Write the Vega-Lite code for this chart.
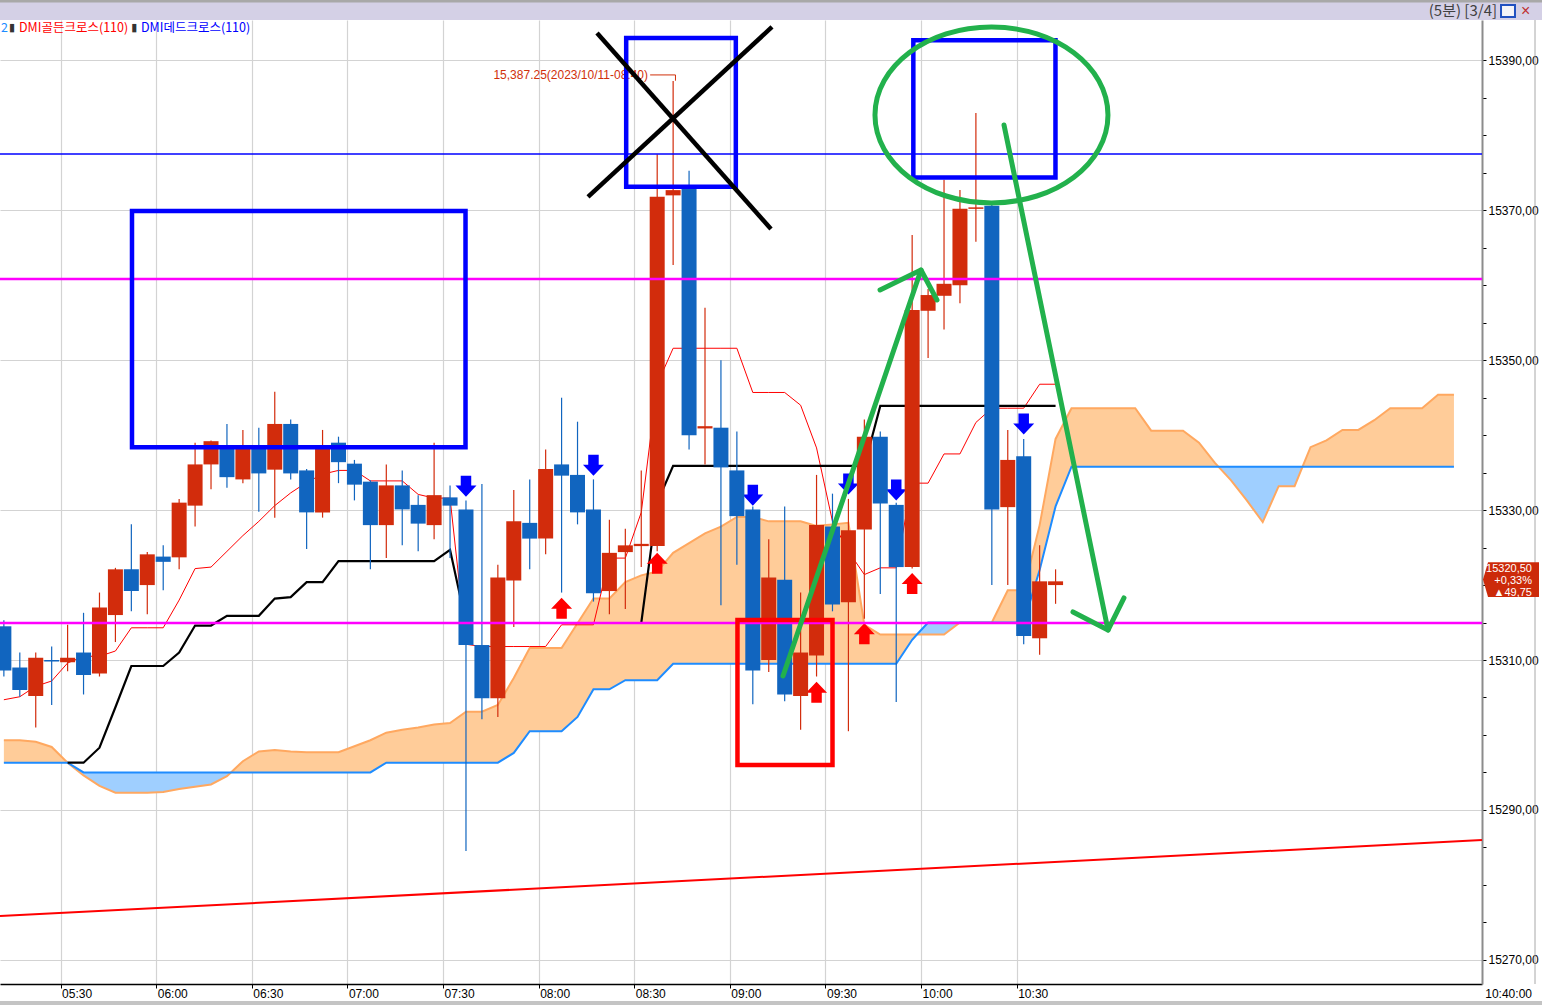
{
"$schema":"https://vega.github.io/schema/vega-lite/v6.json",
"width":1482,"height":964,
"autosize":{"type":"none"},
"padding":{"left":0,"top":20,"right":60,"bottom":21},
"background":"#FFFFFF",
"config":{"view":{"stroke":null},"axis":{"labelFont":"Liberation Sans Narrow, Liberation Sans, sans-serif","labelFontSize":12,"labelColor":"#000000"}},
"datasets":{
"candles":[
{"time":"2023-10-11T05:10","open":15314.5,"high":15315.3,"low":15307.8,"close":15308.6,"tenkan":15304.7,"kijun":null},
{"time":"2023-10-11T05:15","open":15309.0,"high":15311.0,"low":15305.1,"close":15306.0,"tenkan":15305.1,"kijun":null},
{"time":"2023-10-11T05:20","open":15305.2,"high":15311.0,"low":15301.0,"close":15310.3,"tenkan":15306.5,"kijun":null},
{"time":"2023-10-11T05:25","open":15310.0,"high":15311.8,"low":15304.0,"close":15309.8,"tenkan":15307.2,"kijun":null},
{"time":"2023-10-11T05:30","open":15309.7,"high":15314.7,"low":15308.5,"close":15310.3,"tenkan":15309.6,"kijun":15296.3},
{"time":"2023-10-11T05:35","open":15311.0,"high":15316.3,"low":15305.4,"close":15308.0,"tenkan":15310.5,"kijun":15296.3},
{"time":"2023-10-11T05:40","open":15308.2,"high":15319.0,"low":15307.8,"close":15317.0,"tenkan":15310.5,"kijun":15298.3},
{"time":"2023-10-11T05:45","open":15316.0,"high":15322.3,"low":15312.4,"close":15322.1,"tenkan":15311.2,"kijun":15303.7},
{"time":"2023-10-11T05:50","open":15322.1,"high":15328.1,"low":15316.5,"close":15319.2,"tenkan":15314.3,"kijun":15309.2},
{"time":"2023-10-11T05:55","open":15320.0,"high":15324.4,"low":15316.1,"close":15324.1,"tenkan":15314.3,"kijun":15309.2},
{"time":"2023-10-11T06:00","open":15323.8,"high":15325.3,"low":15319.3,"close":15323.1,"tenkan":15314.3,"kijun":15309.2},
{"time":"2023-10-11T06:05","open":15323.7,"high":15331.5,"low":15322.1,"close":15331.0,"tenkan":15318.0,"kijun":15311.0},
{"time":"2023-10-11T06:10","open":15330.6,"high":15339.0,"low":15327.8,"close":15336.1,"tenkan":15322.2,"kijun":15314.6},
{"time":"2023-10-11T06:15","open":15336.1,"high":15339.3,"low":15332.8,"close":15339.2,"tenkan":15322.4,"kijun":15314.6},
{"time":"2023-10-11T06:20","open":15338.4,"high":15341.5,"low":15333.0,"close":15334.4,"tenkan":15324.5,"kijun":15315.9},
{"time":"2023-10-11T06:25","open":15334.1,"high":15340.7,"low":15333.6,"close":15338.3,"tenkan":15326.6,"kijun":15315.9},
{"time":"2023-10-11T06:30","open":15338.3,"high":15341.0,"low":15329.8,"close":15334.9,"tenkan":15328.5,"kijun":15315.9},
{"time":"2023-10-11T06:35","open":15335.4,"high":15345.8,"low":15329.0,"close":15341.5,"tenkan":15330.6,"kijun":15318.2},
{"time":"2023-10-11T06:40","open":15341.5,"high":15342.1,"low":15334.1,"close":15334.9,"tenkan":15332.3,"kijun":15318.4},
{"time":"2023-10-11T06:45","open":15335.3,"high":15335.5,"low":15324.8,"close":15329.7,"tenkan":15333.7,"kijun":15320.4},
{"time":"2023-10-11T06:50","open":15329.7,"high":15340.7,"low":15329.0,"close":15338.3,"tenkan":15334.8,"kijun":15320.4},
{"time":"2023-10-11T06:55","open":15339.0,"high":15339.8,"low":15333.6,"close":15336.4,"tenkan":15335.3,"kijun":15323.2},
{"time":"2023-10-11T07:00","open":15336.2,"high":15336.7,"low":15331.3,"close":15333.4,"tenkan":15335.3,"kijun":15323.2},
{"time":"2023-10-11T07:05","open":15333.8,"high":15334.0,"low":15322.1,"close":15328.0,"tenkan":15333.9,"kijun":15323.2},
{"time":"2023-10-11T07:10","open":15328.0,"high":15336.1,"low":15323.6,"close":15333.3,"tenkan":15333.9,"kijun":15323.2},
{"time":"2023-10-11T07:15","open":15333.3,"high":15335.3,"low":15325.3,"close":15330.1,"tenkan":15333.9,"kijun":15323.2},
{"time":"2023-10-11T07:20","open":15330.7,"high":15332.0,"low":15324.5,"close":15328.2,"tenkan":15332.1,"kijun":15323.2},
{"time":"2023-10-11T07:25","open":15328.0,"high":15339.0,"low":15326.1,"close":15332.0,"tenkan":15331.6,"kijun":15323.2},
{"time":"2023-10-11T07:30","open":15331.7,"high":15333.3,"low":15323.6,"close":15330.6,"tenkan":15331.6,"kijun":15324.7},
{"time":"2023-10-11T07:35","open":15330.1,"high":15331.3,"low":15284.5,"close":15312.0,"tenkan":15312.1,"kijun":15314.94},
{"time":"2023-10-11T07:40","open":15312.0,"high":15333.5,"low":15302.1,"close":15304.9,"tenkan":15311.8,"kijun":15314.94},
{"time":"2023-10-11T07:45","open":15304.9,"high":15322.7,"low":15302.4,"close":15321.0,"tenkan":15311.8,"kijun":15314.94},
{"time":"2023-10-11T07:50","open":15320.6,"high":15332.7,"low":15314.4,"close":15328.5,"tenkan":15311.8,"kijun":15314.94},
{"time":"2023-10-11T07:55","open":15328.3,"high":15334.1,"low":15322.1,"close":15326.2,"tenkan":15311.8,"kijun":15314.94},
{"time":"2023-10-11T08:00","open":15326.2,"high":15338.1,"low":15324.1,"close":15335.5,"tenkan":15311.8,"kijun":15314.94},
{"time":"2023-10-11T08:05","open":15336.1,"high":15345.0,"low":15319.0,"close":15334.6,"tenkan":15314.7,"kijun":15314.94},
{"time":"2023-10-11T08:10","open":15334.7,"high":15341.8,"low":15328.1,"close":15329.7,"tenkan":15314.7,"kijun":15314.94},
{"time":"2023-10-11T08:15","open":15330.1,"high":15334.1,"low":15317.8,"close":15318.9,"tenkan":15314.7,"kijun":15314.94},
{"time":"2023-10-11T08:20","open":15319.2,"high":15328.7,"low":15316.1,"close":15324.3,"tenkan":15323.6,"kijun":15314.94},
{"time":"2023-10-11T08:25","open":15324.4,"high":15327.5,"low":15316.8,"close":15325.3,"tenkan":15323.6,"kijun":15314.94},
{"time":"2023-10-11T08:30","open":15325.2,"high":15335.3,"low":15322.4,"close":15325.5,"tenkan":15329.7,"kijun":15314.94},
{"time":"2023-10-11T08:35","open":15325.2,"high":15377.5,"low":15324.5,"close":15371.8,"tenkan":15346.8,"kijun":15331.0},
{"time":"2023-10-11T08:40","open":15372.0,"high":15387.25,"low":15362.7,"close":15372.7,"tenkan":15351.6,"kijun":15335.9},
{"time":"2023-10-11T08:45","open":15372.9,"high":15375.3,"low":15338.1,"close":15340.0,"tenkan":15351.6,"kijun":15335.9},
{"time":"2023-10-11T08:50","open":15340.9,"high":15357.0,"low":15336.1,"close":15341.2,"tenkan":15351.6,"kijun":15335.9},
{"time":"2023-10-11T08:55","open":15341.0,"high":15350.0,"low":15317.3,"close":15335.7,"tenkan":15351.6,"kijun":15335.9},
{"time":"2023-10-11T09:00","open":15335.3,"high":15340.5,"low":15322.7,"close":15329.2,"tenkan":15351.6,"kijun":15335.9},
{"time":"2023-10-11T09:05","open":15330.1,"high":15330.5,"low":15304.1,"close":15308.6,"tenkan":15345.7,"kijun":15335.9},
{"time":"2023-10-11T09:10","open":15310.0,"high":15326.1,"low":15308.4,"close":15321.0,"tenkan":15345.7,"kijun":15335.9},
{"time":"2023-10-11T09:15","open":15320.7,"high":15330.5,"low":15304.5,"close":15305.4,"tenkan":15345.7,"kijun":15335.9},
{"time":"2023-10-11T09:20","open":15305.2,"high":15319.0,"low":15300.7,"close":15311.0,"tenkan":15344.0,"kijun":15335.9},
{"time":"2023-10-11T09:25","open":15310.6,"high":15334.7,"low":15307.8,"close":15328.0,"tenkan":15338.3,"kijun":15335.9},
{"time":"2023-10-11T09:30","open":15327.8,"high":15332.2,"low":15316.5,"close":15317.4,"tenkan":15328.5,"kijun":15335.9},
{"time":"2023-10-11T09:35","open":15317.7,"high":15331.5,"low":15300.5,"close":15327.3,"tenkan":15324.5,"kijun":15335.9},
{"time":"2023-10-11T09:40","open":15327.4,"high":15342.1,"low":15315.5,"close":15339.8,"tenkan":15321.4,"kijun":15335.9},
{"time":"2023-10-11T09:45","open":15339.8,"high":15340.5,"low":15318.8,"close":15330.9,"tenkan":15322.3,"kijun":15343.9},
{"time":"2023-10-11T09:50","open":15330.7,"high":15331.0,"low":15304.4,"close":15322.4,"tenkan":15322.3,"kijun":15343.9},
{"time":"2023-10-11T09:55","open":15322.4,"high":15366.7,"low":15322.2,"close":15356.7,"tenkan":15333.6,"kijun":15343.9},
{"time":"2023-10-11T10:00","open":15356.6,"high":15359.5,"low":15350.3,"close":15358.7,"tenkan":15333.6,"kijun":15343.9},
{"time":"2023-10-11T10:05","open":15358.6,"high":15374.1,"low":15354.1,"close":15360.2,"tenkan":15337.5,"kijun":15343.9},
{"time":"2023-10-11T10:10","open":15360.0,"high":15372.7,"low":15357.6,"close":15370.2,"tenkan":15337.5,"kijun":15343.9},
{"time":"2023-10-11T10:15","open":15370.2,"high":15383.0,"low":15365.8,"close":15370.4,"tenkan":15341.7,"kijun":15343.9},
{"time":"2023-10-11T10:20","open":15370.6,"high":15371.0,"low":15320.0,"close":15330.1,"tenkan":15343.6,"kijun":15343.9},
{"time":"2023-10-11T10:25","open":15330.4,"high":15340.7,"low":15320.0,"close":15336.7,"tenkan":15343.6,"kijun":15343.9},
{"time":"2023-10-11T10:30","open":15337.2,"high":15339.5,"low":15312.1,"close":15313.2,"tenkan":15343.6,"kijun":15343.9},
{"time":"2023-10-11T10:35","open":15312.9,"high":15325.3,"low":15310.7,"close":15320.5,"tenkan":15346.8,"kijun":15343.9},
{"time":"2023-10-11T10:40","open":15320.0,"high":15322.1,"low":15317.5,"close":15320.5,"tenkan":15346.8,"kijun":15343.9}
],
"cloud":[
{"time":"2023-10-11T05:10","spanA":15299.3,"spanB":15296.3,"seg":1,"kumo":"up"},
{"time":"2023-10-11T05:15","spanA":15299.3,"spanB":15296.3,"seg":1,"kumo":"up"},
{"time":"2023-10-11T05:20","spanA":15299.1,"spanB":15296.3,"seg":1,"kumo":"up"},
{"time":"2023-10-11T05:25","spanA":15298.4,"spanB":15296.3,"seg":1,"kumo":"up"},
{"time":"2023-10-11T05:30","spanA":15296.3,"spanB":15296.3,"seg":1,"kumo":"up"},
{"time":"2023-10-11T05:30","spanA":15296.3,"spanB":15296.3,"seg":2,"kumo":"down"},
{"time":"2023-10-11T05:35","spanA":15294.6,"spanB":15295.0,"seg":2,"kumo":"down"},
{"time":"2023-10-11T05:40","spanA":15293.2,"spanB":15295.0,"seg":2,"kumo":"down"},
{"time":"2023-10-11T05:45","spanA":15292.3,"spanB":15295.0,"seg":2,"kumo":"down"},
{"time":"2023-10-11T05:50","spanA":15292.3,"spanB":15295.0,"seg":2,"kumo":"down"},
{"time":"2023-10-11T05:55","spanA":15292.3,"spanB":15295.0,"seg":2,"kumo":"down"},
{"time":"2023-10-11T06:00","spanA":15292.4,"spanB":15295.0,"seg":2,"kumo":"down"},
{"time":"2023-10-11T06:05","spanA":15292.8,"spanB":15295.0,"seg":2,"kumo":"down"},
{"time":"2023-10-11T06:10","spanA":15293.1,"spanB":15295.0,"seg":2,"kumo":"down"},
{"time":"2023-10-11T06:15","spanA":15293.4,"spanB":15295.0,"seg":2,"kumo":"down"},
{"time":"2023-10-11T06:20","spanA":15294.5,"spanB":15295.0,"seg":2,"kumo":"down"},
{"time":"2023-10-11T06:21:15","spanA":15295.0,"spanB":15295.0,"seg":2,"kumo":"down"},
{"time":"2023-10-11T06:21:15","spanA":15295.0,"spanB":15295.0,"seg":3,"kumo":"up"},
{"time":"2023-10-11T06:25","spanA":15296.5,"spanB":15295.0,"seg":3,"kumo":"up"},
{"time":"2023-10-11T06:30","spanA":15297.8,"spanB":15295.0,"seg":3,"kumo":"up"},
{"time":"2023-10-11T06:35","spanA":15298.0,"spanB":15295.0,"seg":3,"kumo":"up"},
{"time":"2023-10-11T06:40","spanA":15297.8,"spanB":15295.0,"seg":3,"kumo":"up"},
{"time":"2023-10-11T06:45","spanA":15297.7,"spanB":15295.0,"seg":3,"kumo":"up"},
{"time":"2023-10-11T06:50","spanA":15297.7,"spanB":15295.0,"seg":3,"kumo":"up"},
{"time":"2023-10-11T06:55","spanA":15297.7,"spanB":15295.0,"seg":3,"kumo":"up"},
{"time":"2023-10-11T07:00","spanA":15298.5,"spanB":15295.0,"seg":3,"kumo":"up"},
{"time":"2023-10-11T07:05","spanA":15299.3,"spanB":15295.0,"seg":3,"kumo":"up"},
{"time":"2023-10-11T07:10","spanA":15300.3,"spanB":15296.3,"seg":3,"kumo":"up"},
{"time":"2023-10-11T07:15","spanA":15300.7,"spanB":15296.3,"seg":3,"kumo":"up"},
{"time":"2023-10-11T07:20","spanA":15301.0,"spanB":15296.3,"seg":3,"kumo":"up"},
{"time":"2023-10-11T07:25","spanA":15301.4,"spanB":15296.3,"seg":3,"kumo":"up"},
{"time":"2023-10-11T07:30","spanA":15301.6,"spanB":15296.3,"seg":3,"kumo":"up"},
{"time":"2023-10-11T07:35","spanA":15303.1,"spanB":15296.3,"seg":3,"kumo":"up"},
{"time":"2023-10-11T07:40","spanA":15303.1,"spanB":15296.3,"seg":3,"kumo":"up"},
{"time":"2023-10-11T07:45","spanA":15304.0,"spanB":15296.3,"seg":3,"kumo":"up"},
{"time":"2023-10-11T07:50","spanA":15307.6,"spanB":15297.6,"seg":3,"kumo":"up"},
{"time":"2023-10-11T07:55","spanA":15311.6,"spanB":15300.5,"seg":3,"kumo":"up"},
{"time":"2023-10-11T08:00","spanA":15311.6,"spanB":15300.5,"seg":3,"kumo":"up"},
{"time":"2023-10-11T08:05","spanA":15311.6,"spanB":15300.5,"seg":3,"kumo":"up"},
{"time":"2023-10-11T08:10","spanA":15314.9,"spanB":15302.4,"seg":3,"kumo":"up"},
{"time":"2023-10-11T08:15","spanA":15318.2,"spanB":15306.1,"seg":3,"kumo":"up"},
{"time":"2023-10-11T08:20","spanA":15318.2,"spanB":15306.1,"seg":3,"kumo":"up"},
{"time":"2023-10-11T08:25","spanA":15320.4,"spanB":15307.3,"seg":3,"kumo":"up"},
{"time":"2023-10-11T08:30","spanA":15321.3,"spanB":15307.3,"seg":3,"kumo":"up"},
{"time":"2023-10-11T08:35","spanA":15321.8,"spanB":15307.3,"seg":3,"kumo":"up"},
{"time":"2023-10-11T08:40","spanA":15324.3,"spanB":15309.5,"seg":3,"kumo":"up"},
{"time":"2023-10-11T08:45","spanA":15325.6,"spanB":15309.5,"seg":3,"kumo":"up"},
{"time":"2023-10-11T08:50","spanA":15326.9,"spanB":15309.5,"seg":3,"kumo":"up"},
{"time":"2023-10-11T08:55","spanA":15327.8,"spanB":15309.5,"seg":3,"kumo":"up"},
{"time":"2023-10-11T09:00","spanA":15329.1,"spanB":15309.5,"seg":3,"kumo":"up"},
{"time":"2023-10-11T09:05","spanA":15329.1,"spanB":15309.5,"seg":3,"kumo":"up"},
{"time":"2023-10-11T09:10","spanA":15328.5,"spanB":15309.5,"seg":3,"kumo":"up"},
{"time":"2023-10-11T09:15","spanA":15328.5,"spanB":15309.5,"seg":3,"kumo":"up"},
{"time":"2023-10-11T09:20","spanA":15328.5,"spanB":15309.5,"seg":3,"kumo":"up"},
{"time":"2023-10-11T09:25","spanA":15327.9,"spanB":15309.5,"seg":3,"kumo":"up"},
{"time":"2023-10-11T09:30","spanA":15328.1,"spanB":15309.5,"seg":3,"kumo":"up"},
{"time":"2023-10-11T09:35","spanA":15328.3,"spanB":15309.5,"seg":3,"kumo":"up"},
{"time":"2023-10-11T09:40","spanA":15314.7,"spanB":15309.5,"seg":3,"kumo":"up"},
{"time":"2023-10-11T09:45","spanA":15313.4,"spanB":15309.5,"seg":3,"kumo":"up"},
{"time":"2023-10-11T09:50","spanA":15313.4,"spanB":15309.5,"seg":3,"kumo":"up"},
{"time":"2023-10-11T09:55","spanA":15313.4,"spanB":15312.7,"seg":3,"kumo":"up"},
{"time":"2023-10-11T09:56:30","spanA":15313.4,"spanB":15313.4,"seg":3,"kumo":"up"},
{"time":"2023-10-11T09:56:30","spanA":15313.4,"spanB":15313.4,"seg":4,"kumo":"down"},
{"time":"2023-10-11T10:00","spanA":15313.4,"spanB":15315.0,"seg":4,"kumo":"down"},
{"time":"2023-10-11T10:05","spanA":15313.4,"spanB":15315.0,"seg":4,"kumo":"down"},
{"time":"2023-10-11T10:10","spanA":15315.0,"spanB":15315.0,"seg":4,"kumo":"down"},
{"time":"2023-10-11T10:10","spanA":15315.0,"spanB":15315.0,"seg":5,"kumo":"up"},
{"time":"2023-10-11T10:15","spanA":15315.0,"spanB":15315.0,"seg":5,"kumo":"up"},
{"time":"2023-10-11T10:20","spanA":15315.0,"spanB":15315.0,"seg":5,"kumo":"up"},
{"time":"2023-10-11T10:25","spanA":15319.3,"spanB":15315.0,"seg":5,"kumo":"up"},
{"time":"2023-10-11T10:30","spanA":15319.3,"spanB":15315.0,"seg":5,"kumo":"up"},
{"time":"2023-10-11T10:35","spanA":15328.0,"spanB":15322.0,"seg":5,"kumo":"up"},
{"time":"2023-10-11T10:40","spanA":15339.5,"spanB":15330.5,"seg":5,"kumo":"up"},
{"time":"2023-10-11T10:45","spanA":15343.6,"spanB":15335.8,"seg":5,"kumo":"up"},
{"time":"2023-10-11T10:50","spanA":15343.6,"spanB":15335.8,"seg":5,"kumo":"up"},
{"time":"2023-10-11T10:55","spanA":15343.6,"spanB":15335.8,"seg":5,"kumo":"up"},
{"time":"2023-10-11T11:00","spanA":15343.6,"spanB":15335.8,"seg":5,"kumo":"up"},
{"time":"2023-10-11T11:05","spanA":15343.6,"spanB":15335.8,"seg":5,"kumo":"up"},
{"time":"2023-10-11T11:10","spanA":15340.6,"spanB":15335.8,"seg":5,"kumo":"up"},
{"time":"2023-10-11T11:15","spanA":15340.6,"spanB":15335.8,"seg":5,"kumo":"up"},
{"time":"2023-10-11T11:20","spanA":15340.6,"spanB":15335.8,"seg":5,"kumo":"up"},
{"time":"2023-10-11T11:25","spanA":15339.0,"spanB":15335.8,"seg":5,"kumo":"up"},
{"time":"2023-10-11T11:30","spanA":15336.3,"spanB":15335.8,"seg":5,"kumo":"up"},
{"time":"2023-10-11T11:31:05","spanA":15335.8,"spanB":15335.8,"seg":5,"kumo":"up"},
{"time":"2023-10-11T11:31:05","spanA":15335.8,"spanB":15335.8,"seg":6,"kumo":"down"},
{"time":"2023-10-11T11:35","spanA":15334.0,"spanB":15335.8,"seg":6,"kumo":"down"},
{"time":"2023-10-11T11:40","spanA":15331.3,"spanB":15335.8,"seg":6,"kumo":"down"},
{"time":"2023-10-11T11:45","spanA":15328.4,"spanB":15335.8,"seg":6,"kumo":"down"},
{"time":"2023-10-11T11:50","spanA":15333.2,"spanB":15335.8,"seg":6,"kumo":"down"},
{"time":"2023-10-11T11:55","spanA":15333.2,"spanB":15335.8,"seg":6,"kumo":"down"},
{"time":"2023-10-11T11:57:30","spanA":15335.8,"spanB":15335.8,"seg":6,"kumo":"down"},
{"time":"2023-10-11T11:57:30","spanA":15335.8,"spanB":15335.8,"seg":7,"kumo":"up"},
{"time":"2023-10-11T12:00","spanA":15338.4,"spanB":15335.8,"seg":7,"kumo":"up"},
{"time":"2023-10-11T12:05","spanA":15339.3,"spanB":15335.8,"seg":7,"kumo":"up"},
{"time":"2023-10-11T12:10","spanA":15340.7,"spanB":15335.8,"seg":7,"kumo":"up"},
{"time":"2023-10-11T12:15","spanA":15340.7,"spanB":15335.8,"seg":7,"kumo":"up"},
{"time":"2023-10-11T12:20","spanA":15342.0,"spanB":15335.8,"seg":7,"kumo":"up"},
{"time":"2023-10-11T12:25","spanA":15343.6,"spanB":15335.8,"seg":7,"kumo":"up"},
{"time":"2023-10-11T12:30","spanA":15343.6,"spanB":15335.8,"seg":7,"kumo":"up"},
{"time":"2023-10-11T12:35","spanA":15343.6,"spanB":15335.8,"seg":7,"kumo":"up"},
{"time":"2023-10-11T12:40","spanA":15345.4,"spanB":15335.8,"seg":7,"kumo":"up"},
{"time":"2023-10-11T12:45","spanA":15345.4,"spanB":15335.8,"seg":7,"kumo":"up"}
],
"sell":[
{"time":"2023-10-11T07:35","price":15333.2},
{"time":"2023-10-11T08:15","price":15336.0},
{"time":"2023-10-11T09:05","price":15332.0},
{"time":"2023-10-11T09:35","price":15333.5},
{"time":"2023-10-11T09:50","price":15332.7},
{"time":"2023-10-11T10:30","price":15341.5}
],
"buy":[
{"time":"2023-10-11T08:05","price":15316.9},
{"time":"2023-10-11T08:35","price":15322.9},
{"time":"2023-10-11T09:25","price":15305.7},
{"time":"2023-10-11T09:40","price":15313.5},
{"time":"2023-10-11T09:55","price":15320.2}
],
"blueBoxes":[
{"from":"2023-10-11T05:52:24","to":"2023-10-11T07:37:03","top":15369.9,"bottom":15338.4},
{"from":"2023-10-11T08:27:28","to":"2023-10-11T09:01:52","top":15393.0,"bottom":15373.15},
{"from":"2023-10-11T09:57:34","to":"2023-10-11T10:42:10","top":15392.7,"bottom":15374.4}
],
"redBoxes":[
{"from":"2023-10-11T09:02:23","to":"2023-10-11T09:32:12","top":15315.34,"bottom":15295.99}
],
"cross":[
{"stroke":"a","i":1,"time":"2023-10-11T08:18:19","price":15393.67},
{"stroke":"a","i":2,"time":"2023-10-11T09:12:54","price":15367.52},
{"stroke":"b","i":1,"time":"2023-10-11T08:15:29","price":15371.79},
{"stroke":"b","i":2,"time":"2023-10-11T09:13:13","price":15394.47}
],
"green":[
{"stroke":"up shaft","i":1,"time":"2023-10-11T09:16:40","price":15307.87},
{"stroke":"up shaft","i":2,"time":"2023-10-11T09:59:58","price":15362.04},
{"stroke":"up head","i":1,"time":"2023-10-11T09:47:07","price":15359.38},
{"stroke":"up head","i":2,"time":"2023-10-11T09:59:58","price":15362.04},
{"stroke":"up head","i":3,"time":"2023-10-11T10:04:59","price":15358.04},
{"stroke":"down shaft","i":1,"time":"2023-10-11T10:26:01","price":15381.39},
{"stroke":"down shaft","i":2,"time":"2023-10-11T10:58:39","price":15314.0},
{"stroke":"down head","i":1,"time":"2023-10-11T10:47:40","price":15316.41},
{"stroke":"down head","i":2,"time":"2023-10-11T10:58:39","price":15314.0},
{"stroke":"down head","i":3,"time":"2023-10-11T11:03:40","price":15318.28}
]
},
"layer":[
{"data":{"name":"cloud"},"transform":[{"filter":"datum.kumo == 'up'"}],
 "mark":{"type":"area","color":"#FFCC99","opacity":1,"xOffset":7},
 "encoding":{
  "x":{"field":"time","type":"temporal","title":null,
   "scale":{"domain":[{"year":2023,"month":10,"date":11,"hours":5,"minutes":10,"seconds":59},{"year":2023,"month":10,"date":11,"hours":12,"minutes":56,"seconds":0}],"nice":false,"padding":0},
   "axis":{"values":[{"year":2023,"month":10,"date":11,"hours":5,"minutes":30},{"year":2023,"month":10,"date":11,"hours":6,"minutes":0},{"year":2023,"month":10,"date":11,"hours":6,"minutes":30},{"year":2023,"month":10,"date":11,"hours":7,"minutes":0},{"year":2023,"month":10,"date":11,"hours":7,"minutes":30},{"year":2023,"month":10,"date":11,"hours":8,"minutes":0},{"year":2023,"month":10,"date":11,"hours":8,"minutes":30},{"year":2023,"month":10,"date":11,"hours":9,"minutes":0},{"year":2023,"month":10,"date":11,"hours":9,"minutes":30},{"year":2023,"month":10,"date":11,"hours":10,"minutes":0},{"year":2023,"month":10,"date":11,"hours":10,"minutes":30}],
    "format":"%H:%M","title":null,"labelAlign":"left","labelOffset":1,"labelPadding":0,"labelBaseline":"top","labelFlush":false,"labelOverlap":false,
    "tickSize":4,"tickColor":"#000000","domainColor":"#000000","domainWidth":1.5,"grid":true,"gridColor":"#D3D3D3","gridWidth":1.2}},
  "y":{"field":"spanA","type":"quantitative","title":null,
   "scale":{"domain":[15266.77,15395.4],"nice":false,"zero":false,"padding":0},
   "axis":{"orient":"right","title":null,"values":[15270,15275,15280,15285,15290,15295,15300,15305,15310,15315,15320,15325,15330,15335,15340,15345,15350,15355,15360,15365,15370,15375,15380,15385,15390],
    "labelExpr":"datum.value % 20 == 10 ? replace(format(datum.value, '.2f'), '.', ',') : ''",
    "tickSize":4,"tickColor":"#000000","domainColor":"#8C8C8C","domainWidth":2,"labelPadding":2,"labelOverlap":false,"labelFlush":false,
    "grid":true,"gridColor":"#D3D3D3","gridWidth":1.2,"gridOpacity":{"condition":{"test":"datum.value % 20 == 10","value":1},"value":0}}},
  "y2":{"field":"spanB"},
  "detail":{"field":"seg","type":"nominal"}}},
{"data":{"name":"cloud"},"transform":[{"filter":"datum.kumo == 'down'"}],
 "mark":{"type":"area","color":"#9FCFFF","opacity":1,"xOffset":7},
 "encoding":{"x":{"field":"time","type":"temporal","title":null},"y":{"field":"spanA","type":"quantitative","title":null},"y2":{"field":"spanB"},"detail":{"field":"seg","type":"nominal"}}},
{"data":{"name":"cloud"},
 "mark":{"type":"line","color":"#FFA860","strokeWidth":2,"xOffset":7},
 "encoding":{"x":{"field":"time","type":"temporal","title":null},"y":{"field":"spanA","type":"quantitative","title":null}}},
{"data":{"name":"cloud"},
 "mark":{"type":"line","color":"#1E8CFF","strokeWidth":2,"xOffset":7},
 "encoding":{"x":{"field":"time","type":"temporal","title":null},"y":{"field":"spanB","type":"quantitative","title":null}}},
{"data":{"name":"candles"},
 "mark":{"type":"line","color":"#FF0000","strokeWidth":1,"xOffset":7},
 "encoding":{"x":{"field":"time","type":"temporal","title":null},"y":{"field":"tenkan","type":"quantitative","title":null}}},
{"data":{"name":"candles"},
 "mark":{"type":"line","color":"#000000","strokeWidth":2.2,"xOffset":7},
 "encoding":{"x":{"field":"time","type":"temporal","title":null},"y":{"field":"kijun","type":"quantitative","title":null}}},
{"data":{"name":"sell"},
 "mark":{"type":"point","shape":"M-0.5,-1L0.5,-1L0.5,-0.05L1,-0.05L0,1L-1,-0.05L-0.5,-0.05Z","filled":true,"size":441,"color":"#0000FF","opacity":1,"strokeWidth":0,"xOffset":7},
 "encoding":{"x":{"field":"time","type":"temporal","title":null},"y":{"field":"price","type":"quantitative","title":null}}},
{"data":{"name":"buy"},
 "mark":{"type":"point","shape":"M-0.5,1L0.5,1L0.5,0.05L1,0.05L0,-1L-1,0.05L-0.5,0.05Z","filled":true,"size":441,"color":"#FF0000","opacity":1,"strokeWidth":0,"xOffset":7},
 "encoding":{"x":{"field":"time","type":"temporal","title":null},"y":{"field":"price","type":"quantitative","title":null}}},
{"data":{"name":"candles"},
 "mark":{"type":"rule","strokeWidth":1.2,"xOffset":7},
 "encoding":{"x":{"field":"time","type":"temporal","title":null},"y":{"field":"low","type":"quantitative","title":null},"y2":{"field":"high"},
  "color":{"condition":{"test":"datum.close >= datum.open","value":"#D22C0C"},"value":"#1165BF"}}},
{"data":{"name":"candles"},
 "mark":{"type":"bar","width":15,"xOffset":7},
 "encoding":{"x":{"field":"time","type":"temporal","title":null},"y":{"field":"open","type":"quantitative","title":null},"y2":{"field":"close"},
  "color":{"condition":{"test":"datum.close >= datum.open","value":"#D22C0C"},"value":"#1165BF"}}},
{"data":{"values":[{"price":15377.52}]},
 "mark":{"type":"rule","color":"#0000FF","strokeWidth":1.6},
 "encoding":{"y":{"field":"price","type":"quantitative","title":null}}},
{"data":{"values":[{"price":15360.84},{"price":15314.94}]},
 "mark":{"type":"rule","color":"#FF00FF","strokeWidth":2.4},
 "encoding":{"y":{"field":"price","type":"quantitative","title":null}}},
{"data":{"values":[{"time":"2023-10-11T05:10:59","price":15275.84},{"time":"2023-10-11T12:56:00","price":15285.98}]},
 "mark":{"type":"line","color":"#FF0000","strokeWidth":2},
 "encoding":{"x":{"field":"time","type":"temporal","title":null},"y":{"field":"price","type":"quantitative","title":null}}},
{"data":{"values":[{"time":"2023-10-11T08:34:19","price":15388.07,"label":"15,387.25(2023/10/11-08:40)"}]},
 "mark":{"type":"text","align":"right","baseline":"middle","font":"Liberation Sans, sans-serif","fontSize":12,"color":"#D0300A"},
 "encoding":{"x":{"field":"time","type":"temporal","title":null},"y":{"field":"price","type":"quantitative","title":null},"text":{"field":"label"}}},
{"data":{"values":[{"i":1,"time":"2023-10-11T08:34:59","price":15388.07},{"i":2,"time":"2023-10-11T08:42:56","price":15388.07},{"i":3,"time":"2023-10-11T08:42:56","price":15387.3}]},
 "mark":{"type":"line","color":"#D0300A","strokeWidth":1},
 "encoding":{"x":{"field":"time","type":"temporal","title":null},"y":{"field":"price","type":"quantitative","title":null},"order":{"field":"i"}}},
{"data":{"name":"blueBoxes"},
 "mark":{"type":"rect","fill":"transparent","stroke":"#0000FF","strokeWidth":4.5},
 "encoding":{"x":{"field":"from","type":"temporal","title":null},"x2":{"field":"to"},"y":{"field":"top","type":"quantitative","title":null},"y2":{"field":"bottom"}}},
{"data":{"name":"redBoxes"},
 "mark":{"type":"rect","fill":"transparent","stroke":"#FF0000","strokeWidth":4.5},
 "encoding":{"x":{"field":"from","type":"temporal","title":null},"x2":{"field":"to"},"y":{"field":"top","type":"quantitative","title":null},"y2":{"field":"bottom"}}},
{"data":{"name":"cross"},
 "mark":{"type":"line","color":"#000000","strokeWidth":4.5},
 "encoding":{"x":{"field":"time","type":"temporal","title":null},"y":{"field":"price","type":"quantitative","title":null},"detail":{"field":"stroke","type":"nominal"},"order":{"field":"i"}}},
{"data":{"values":[{"time":"2023-10-11T10:22:05","price":15382.73}]},
 "mark":{"type":"point","shape":"M1,0C1,0.417,0.5523,0.755,0,0.755C-0.5523,0.755,-1,0.417,-1,0C-1,-0.417,-0.5523,-0.755,0,-0.755C0.5523,-0.755,1,-0.417,1,0Z","filled":false,"size":54289,"stroke":"#22B14C","strokeWidth":5,"opacity":1},
 "encoding":{"x":{"field":"time","type":"temporal","title":null},"y":{"field":"price","type":"quantitative","title":null}}},
{"data":{"name":"green"},
 "mark":{"type":"line","color":"#22B14C","strokeWidth":5,"strokeCap":"round","strokeJoin":"round"},
 "encoding":{"x":{"field":"time","type":"temporal","title":null},"y":{"field":"price","type":"quantitative","title":null},"detail":{"field":"stroke","type":"nominal"},"order":{"field":"i"}}},
{"data":{"values":[{"time":"2023-10-11T13:12:38"}]},
 "mark":{"type":"rule","color":"#A8A8A8","strokeWidth":1},
 "encoding":{"x":{"field":"time","type":"temporal","title":null}}},
{"data":{"values":[{"from":"2023-10-11T05:10:59","to":"2023-10-11T13:16:00","top":15264.5,"bottom":15263.9}]},
 "mark":{"type":"rect","color":"#C4C4C4"},
 "encoding":{"x":{"field":"from","type":"temporal","title":null},"x2":{"field":"to"},"y":{"field":"top","type":"quantitative","title":null},"y2":{"field":"bottom"}}},
{"data":{"values":[{"from":"2023-10-11T05:10:59","to":"2023-10-11T13:16:00","top":15398.2,"bottom":15395.4}]},
 "mark":{"type":"rect","color":"#D4D0E6"},
 "encoding":{"x":{"field":"from","type":"temporal","title":null},"x2":{"field":"to"},"y":{"field":"top","type":"quantitative","title":null},"y2":{"field":"bottom"}}},
{"data":{"values":[{"from":"2023-10-11T05:10:59","to":"2023-10-11T13:16:00","top":15398.2,"bottom":15397.75}]},
 "mark":{"type":"rect","color":"#A8A8A8"},
 "encoding":{"x":{"field":"from","type":"temporal","title":null},"x2":{"field":"to"},"y":{"field":"top","type":"quantitative","title":null},"y2":{"field":"bottom"}}},
{"data":{"values":[{"time":"2023-10-11T13:00:43","price":15396.6,"label":"(5분) [3/4]"}]},
 "mark":{"type":"text","align":"right","baseline":"middle","font":"Noto Sans CJK KR","fontSize":15,"color":"#404040"},
 "encoding":{"x":{"field":"time","type":"temporal","title":null},"y":{"field":"price","type":"quantitative","title":null},"text":{"field":"label"}}},
{"data":{"values":[{"from":"2023-10-11T13:01:58","to":"2023-10-11T13:06:21","top":15397.4,"bottom":15395.8}]},
 "mark":{"type":"rect","fill":"#F4F4F8","stroke":"#2050C0","strokeWidth":2},
 "encoding":{"x":{"field":"from","type":"temporal","title":null},"x2":{"field":"to"},"y":{"field":"top","type":"quantitative","title":null},"y2":{"field":"bottom"}}},
{"data":{"values":[{"time":"2023-10-11T13:09:40","price":15396.6,"label":"×"}]},
 "mark":{"type":"text","align":"center","baseline":"middle","font":"Liberation Sans","fontSize":16,"color":"#C03030"},
 "encoding":{"x":{"field":"time","type":"temporal","title":null},"y":{"field":"price","type":"quantitative","title":null},"text":{"field":"label"}}},
{"data":{"values":[{"time":"2023-10-11T05:11:18","price":15394.34,"label":"2"}]},
 "mark":{"type":"text","align":"left","baseline":"middle","font":"Noto Sans CJK KR","fontSize":12.5,"color":"#1E8CFF"},
 "encoding":{"x":{"field":"time","type":"temporal","title":null},"y":{"field":"price","type":"quantitative","title":null},"text":{"field":"label"}}},
{"data":{"values":[{"time":"2023-10-11T05:13:50","price":15394.34,"label":"▮"},{"time":"2023-10-11T05:52:10","price":15394.34,"label":"▮"}]},
 "mark":{"type":"text","align":"left","baseline":"middle","font":"DejaVu Sans","fontSize":11,"color":"#333333"},
 "encoding":{"x":{"field":"time","type":"temporal","title":null},"y":{"field":"price","type":"quantitative","title":null},"text":{"field":"label"}}},
{"data":{"values":[{"time":"2023-10-11T05:16:57","price":15394.34,"label":"DMI골든크로스(110)"}]},
 "mark":{"type":"text","align":"left","baseline":"middle","font":"Noto Sans CJK KR","fontSize":12.5,"color":"#FF0000"},
 "encoding":{"x":{"field":"time","type":"temporal","title":null},"y":{"field":"price","type":"quantitative","title":null},"text":{"field":"label"}}},
{"data":{"values":[{"time":"2023-10-11T05:55:14","price":15394.34,"label":"DMI데드크로스(110)"}]},
 "mark":{"type":"text","align":"left","baseline":"middle","font":"Noto Sans CJK KR","fontSize":12.5,"color":"#0000FF"},
 "encoding":{"x":{"field":"time","type":"temporal","title":null},"y":{"field":"price","type":"quantitative","title":null},"text":{"field":"label"}}},
{"data":{"values":[{"time":"2023-10-11T13:05:06","price":15320.74}]},
 "mark":{"type":"point","shape":"M-1,0L-0.82,-0.62L1,-0.62L1,0.62L-0.82,0.62Z","filled":true,"size":3136,"color":"#CC2A0A","opacity":1,"strokeWidth":0},
 "encoding":{"x":{"field":"time","type":"temporal","title":null},"y":{"field":"price","type":"quantitative","title":null}}},
{"data":{"values":[{"time":"2023-10-11T13:11:41","price":15322.2,"label":"15320,50"},{"time":"2023-10-11T13:11:41","price":15320.6,"label":"+0,33%"},{"time":"2023-10-11T13:11:41","price":15319.0,"label":"▲49,75"}]},
 "mark":{"type":"text","align":"right","baseline":"middle","font":"Liberation Sans, sans-serif","fontSize":11,"color":"#FFFFFF"},
 "encoding":{"x":{"field":"time","type":"temporal","title":null},"y":{"field":"price","type":"quantitative","title":null},"text":{"field":"label"}}},
{"data":{"values":[{"time":"2023-10-11T13:11:41","price":15265.43,"label":"10:40:00"}]},
 "mark":{"type":"text","align":"right","baseline":"middle","font":"Liberation Sans Narrow, Liberation Sans, sans-serif","fontSize":12,"color":"#000000"},
 "encoding":{"x":{"field":"time","type":"temporal","title":null},"y":{"field":"price","type":"quantitative","title":null},"text":{"field":"label"}}}
]
}
